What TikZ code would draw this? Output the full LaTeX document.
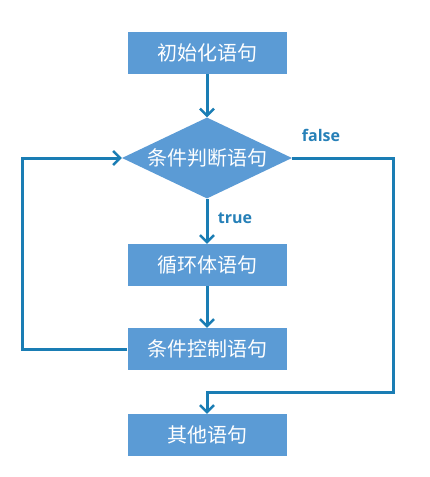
\documentclass[tikz,border=0pt]{standalone}
\usepackage{fontspec}
\setmainfont{Open Sans}[BoldFont={Open Sans Bold}]
\newfontfamily\lblfont{Open Sans Bold}
\newfontfamily\cjk{Noto Sans CJK SC}
\usetikzlibrary{shapes.geometric,arrows.meta}
\definecolor{boxblue}{HTML}{5B9BD5}
\definecolor{lineblue}{HTML}{1A7DB4}
\definecolor{labelblue}{HTML}{2680B8}
\tikzset{
  stepbox/.style={rectangle, fill=boxblue, draw=none, minimum width=159pt, minimum height=42pt, inner sep=0pt, text=white, font=\cjk\fontsize{20}{22}\selectfont},
  decision/.style={diamond, fill=boxblue, draw=none, minimum width=170pt, minimum height=81pt, inner sep=0pt, aspect=2.1, text=white, font=\cjk\fontsize{20}{22}\selectfont},
  flow/.style={draw=lineblue, line width=3pt, -{Straight Barb[length=7pt,width=14pt,line width=2.5pt]}},
  lbl/.style={text=labelblue, font=\lblfont\fontsize{16}{18}\selectfont, inner sep=0pt}
}
\begin{document}
\begin{tikzpicture}[x=1pt,y=-1pt]
\fill[white] (0,0) rectangle (430,477);
\useasboundingbox (0,0) rectangle (430,477);
\node[stepbox] (init) at (207,53) {初始化语句};
\node[decision] (cond) at (207,158) {条件判断语句};
\node[stepbox] (body) at (207,265) {循环体语句};
\node[stepbox] (ctrl) at (207,349) {条件控制语句};
\node[stepbox] (other) at (207,435) {其他语句};
\coordinate (F) at (393,392);
\draw[flow] (init.south) -- (cond.north);
\draw[flow] (cond.south) -- (body.north);
\draw[flow] (body.south) -- (ctrl.north);
\draw[flow] (ctrl.west) -- ++(-105,0) |- (cond.west);
\draw[flow] (cond.east) -| (F) -| (other.north);
\node[lbl] (t) at (235,218) {true};
\node[lbl] (f) at (321,135) {false};
\end{tikzpicture}
\end{document}
